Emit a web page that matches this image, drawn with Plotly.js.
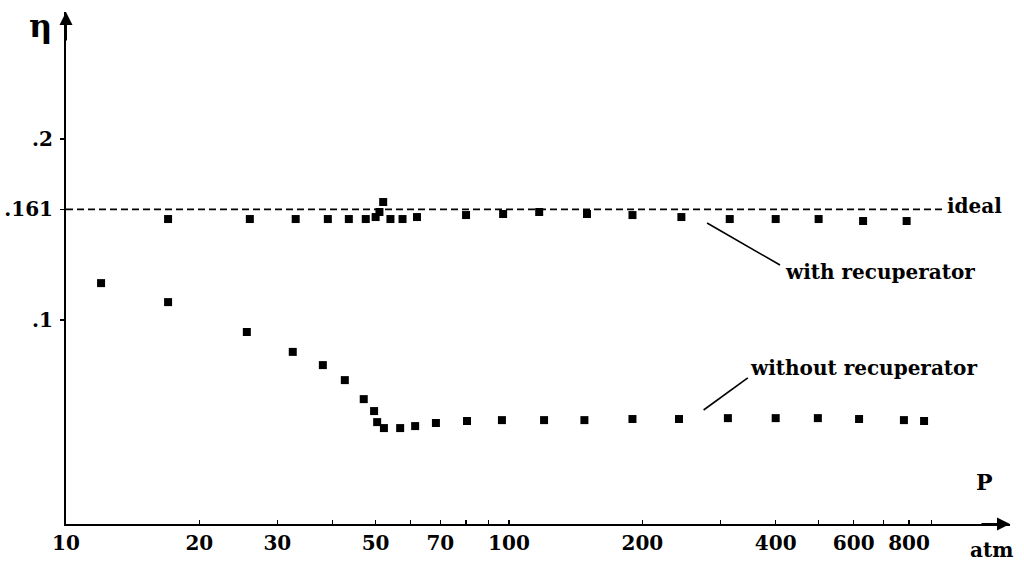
<!DOCTYPE html>
<html>
<head>
<meta charset="utf-8">
<script src="https://cdn.plot.ly/plotly-3.0.1.min.js"></script>
<style>
  html, body { margin: 0; padding: 0; background: #fff; }
  #chart { width: 1024px; height: 568px; }
</style>
</head>
<body>
<div id="chart"></div>
<script>
// pressure (atm) and efficiency
const withP = [17, 26, 33, 39, 43.5, 47.5, 50, 51, 52, 54, 57.5, 62, 80, 97, 117, 150, 190, 245, 315, 400, 500, 630, 790];
const withEta = [.1557, .1557, .1557, .1557, .1557, .1557, .1568, .1596, .1651, .1557, .1557, .1568,
  .1579, .1585, .1596, .1585, .1579, .1568, .1557, .1557, .1557, .1546, .1546];

const withoutP = [12, 17, 25.6, 32.5, 38, 42.6, 47, 49.6, 50.4, 52.2, 56.8, 61.4, 68.4, 80.4, 96.4, 120, 148, 190, 242, 312, 400, 498, 617, 779, 865];
const withoutEta = [.1203, .1098, .0933, .0823, .0750, .0667, .0562, .0496, .0435, .0402, .0402, .0413, .0430,
  .0441, .0446, .0446, .0446, .0452, .0452, .0457, .0457, .0457, .0452, .0446, .0441];

const idealP = [10, 955];
const idealEta = [0.161, 0.161];

// leader lines from the labels to the series
const withLeaderP = [280, 409];
const withLeaderEta = [.1535, .1303];
const withoutLeaderP = [275, 346];
const withoutLeaderEta = [.0502, .0679];

const xTicks = [10, 20, 30, 40, 50, 60, 70, 80, 90, 100, 200, 300, 400, 500, 600, 700, 800, 900];
const xTickText = ['10', '20', '30', '', '50', '', '70', '', '', '100', '200', '', '400', '', '600', '', '800', ''];
const yTicks = [0.1, 0.161, 0.2];
const yTickText = ['.1', '.161', '.2'];

const serif = { family: 'DejaVu Serif', size: 20, color: '#000', weight: 'bold' };
const xRange = [1, 3.131];
const yRange = [-0.0128, 0.2701];

var data = [
  { x: idealP, y: idealEta, mode: 'lines', type: 'scatter',
    line: { color: '#000', width: 1.8, dash: '7px,4px' } },
  { x: withLeaderP, y: withLeaderEta, mode: 'lines', type: 'scatter',
    line: { color: '#000', width: 1.6 } },
  { x: withoutLeaderP, y: withoutLeaderEta, mode: 'lines', type: 'scatter',
    line: { color: '#000', width: 1.6 } },
  { x: withP, y: withEta, mode: 'markers', type: 'scatter',
    marker: { symbol: 'square', size: 8, color: '#000' } },
  { x: withoutP, y: withoutEta, mode: 'markers', type: 'scatter',
    marker: { symbol: 'square', size: 8, color: '#000' } },
];

function label(x, y, text, font, xanchor) {
  return { xref: 'paper', yref: 'paper', x, y, text, showarrow: false,
    xanchor: xanchor || 'center', yanchor: 'middle', font: font || serif };
}

var layout = {
  width: 1024,
  height: 568,
  autosize: false,
  hovermode: false,
  showlegend: false,
  paper_bgcolor: '#fff',
  plot_bgcolor: '#fff',
  margin: { l: 66, r: 14, t: 12, b: 44 },
  // labelled axis carries the inner half of each tick, the overlay the outer half
  xaxis: {
    type: 'log', range: xRange, fixedrange: true,
    showgrid: false, zeroline: false,
    showline: true, linecolor: '#000', linewidth: 2,
    tickmode: 'array', tickvals: xTicks, ticktext: xTickText,
    ticks: 'inside', ticklen: 4, tickwidth: 1.5, tickcolor: '#000',
    tickfont: serif,
  },
  xaxis2: {
    type: 'log', range: xRange, overlaying: 'x', anchor: 'y', side: 'bottom',
    fixedrange: true, showgrid: false, zeroline: false, showline: false,
    tickmode: 'array', tickvals: xTicks, showticklabels: false,
    ticks: 'outside', ticklen: 4, tickwidth: 1.5, tickcolor: '#000',
  },
  yaxis: {
    range: yRange, fixedrange: true,
    showgrid: false, zeroline: false,
    showline: true, linecolor: '#000', linewidth: 2,
    tickmode: 'array', tickvals: yTicks, ticktext: yTickText,
    ticks: 'outside', ticklen: 4, tickwidth: 1.5, tickcolor: '#000',
    ticklabelstandoff: 3,
    tickfont: serif,
  },
  yaxis2: {
    range: yRange, overlaying: 'y', anchor: 'x', side: 'left',
    fixedrange: true, showgrid: false, zeroline: false, showline: false,
    tickmode: 'array', tickvals: yTicks, showticklabels: false,
    ticks: 'inside', ticklen: 4, tickwidth: 1.5, tickcolor: '#000',
  },
  annotations: [
    // axis arrows
    { xref: 'paper', yref: 'paper', x: 0, y: 1.0, ax: 0, ay: 30, text: '',
      showarrow: true, arrowhead: 2, arrowsize: 1.3, arrowwidth: 2, arrowcolor: '#000' },
    { xref: 'paper', yref: 'paper', x: 1.0, y: 0, ax: -30, ay: 0, text: '',
      showarrow: true, arrowhead: 2, arrowsize: 1.3, arrowwidth: 2, arrowcolor: '#000' },
    // labels
    label(-0.027, 0.972, 'η', { family: 'DejaVu Serif', size: 32, color: '#000', weight: 'bold' }),
    label(0.973, 0.082, 'P', { family: 'DejaVu Serif', size: 22, color: '#000', weight: 'bold' }),
    label(0.980, -0.05, 'atm'),
    label(0.931, 0.621, 'ideal', serif, 'left'),
    label(0.760, 0.492, 'with recuperator', serif, 'left'),
    label(0.722, 0.305, 'without recuperator', serif, 'left'),
  ],
};

Plotly.newPlot('chart', data, layout, { displayModeBar: false, staticPlot: true });
</script>
</body>
</html>
